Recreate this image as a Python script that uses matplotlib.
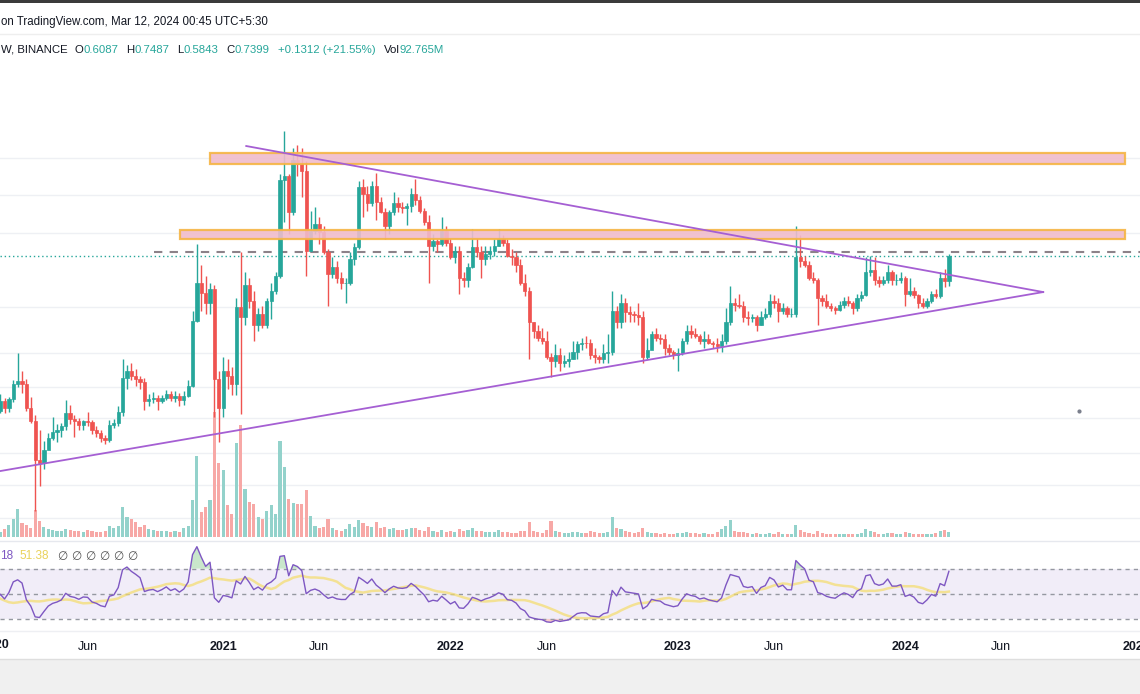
import numpy as np
import pandas as pd
import matplotlib
matplotlib.use("Agg")
import matplotlib.pyplot as plt
import matplotlib.dates as mdates
from matplotlib.patches import Rectangle

plt.rcParams['font.family'] = ['Liberation Sans', 'DejaVu Sans']

# XRP/USDT weekly candles (Binance), weeks start on Monday.
# first 20 weeks (Aug 2019 - Jan 2020) sit left of the view, they only warm up the RSI
weeks = pd.date_range("2019-08-26", "2024-03-11", freq="W-MON")
first_open = 0.254

close = [
    # 2019 warm-up
    0.257, 0.258, 0.264, 0.289, 0.245, 0.255, 0.292, 0.291, 0.300, 0.295,
    0.276, 0.262, 0.228, 0.224, 0.221, 0.205, 0.190, 0.193, 0.207, 0.220,
    # 2020 (from Jan 13)
    0.238, 0.226, 0.241, 0.272, 0.279, 0.272, 0.226, 0.203, 0.150, 0.146,
    0.162, 0.178, 0.186, 0.190, 0.196, 0.216, 0.206, 0.203, 0.197, 0.203,
    0.202, 0.189, 0.185, 0.178, 0.175, 0.197, 0.200, 0.218, 0.285, 0.300,
    0.290, 0.283, 0.275, 0.237, 0.242, 0.244, 0.238, 0.244, 0.252, 0.243,
    0.248, 0.240, 0.248, 0.268, 0.445, 0.600, 0.555, 0.510, 0.570, 0.283,
    0.225,
    # 2021
    0.300, 0.290, 0.272, 0.495, 0.460, 0.590, 0.520, 0.430, 0.470, 0.430,
    0.520, 0.560, 0.630, 1.340, 1.380, 1.040, 1.560, 1.520, 1.430, 0.770,
    0.900, 0.950, 0.890, 0.760, 0.640, 0.680, 0.620, 0.600, 0.600, 0.720,
    0.790, 1.270, 1.200, 1.120, 1.280, 1.130, 1.040, 0.930, 1.040, 1.120,
    1.080, 1.070, 1.090, 1.200, 1.140, 1.050, 0.960, 0.800, 0.830, 0.810,
    0.900, 0.820,
    # 2022
    0.730, 0.770, 0.620, 0.610, 0.680, 0.790, 0.760, 0.720, 0.750, 0.770,
    0.800, 0.840, 0.820, 0.740, 0.730, 0.690, 0.600, 0.560, 0.440, 0.410,
    0.390, 0.380, 0.335, 0.325, 0.340, 0.320, 0.325, 0.330, 0.350, 0.370,
    0.375, 0.373, 0.340, 0.335, 0.330, 0.345, 0.350, 0.480, 0.440, 0.510,
    0.475, 0.470, 0.465, 0.460, 0.336, 0.355, 0.400, 0.390, 0.385, 0.360,
    0.350, 0.340,
    # 2023
    0.345, 0.380, 0.410, 0.400, 0.395, 0.380, 0.385, 0.375, 0.370, 0.365,
    0.380, 0.440, 0.510, 0.505, 0.500, 0.460, 0.455, 0.460, 0.430, 0.460,
    0.470, 0.520, 0.510, 0.480, 0.490, 0.470, 0.470, 0.735, 0.710, 0.690,
    0.620, 0.610, 0.530, 0.520, 0.500, 0.490, 0.485, 0.505, 0.520, 0.510,
    0.490, 0.530, 0.545, 0.650, 0.660, 0.610, 0.600, 0.610, 0.650, 0.610,
    0.610, 0.620,
    # 2024
    0.550, 0.560, 0.545, 0.510, 0.500, 0.520, 0.550, 0.540, 0.620, 0.6087,
    0.7399,
]
high = [
    0.262, 0.265, 0.270, 0.318, 0.292, 0.262, 0.307, 0.303, 0.313, 0.305,
    0.310, 0.280, 0.265, 0.235, 0.232, 0.224, 0.207, 0.197, 0.216, 0.228,
    0.252, 0.243, 0.246, 0.281, 0.345, 0.300, 0.283, 0.245, 0.213, 0.190,
    0.174, 0.185, 0.210, 0.198, 0.200, 0.240, 0.230, 0.213, 0.208, 0.205,
    0.218, 0.205, 0.195, 0.190, 0.182, 0.205, 0.207, 0.228, 0.330, 0.316,
    0.320, 0.305, 0.290, 0.285, 0.252, 0.256, 0.250, 0.250, 0.260, 0.257,
    0.258, 0.253, 0.258, 0.280, 0.480, 0.810, 0.690, 0.630, 0.600, 0.590,
    0.300,
    0.335, 0.330, 0.310, 0.530, 0.760, 0.650, 0.620, 0.560, 0.490, 0.500,
    0.530, 0.600, 0.650, 1.400, 1.960, 1.400, 1.720, 1.760, 1.720, 1.550,
    1.050, 1.080, 1.000, 0.930, 0.780, 0.730, 0.710, 0.650, 0.620, 0.760,
    0.820, 1.330, 1.350, 1.280, 1.330, 1.410, 1.170, 1.070, 1.060, 1.220,
    1.170, 1.130, 1.120, 1.260, 1.350, 1.180, 1.070, 1.020, 0.880, 0.840,
    1.000, 0.930,
    0.850, 0.800, 0.800, 0.650, 0.700, 0.910, 0.850, 0.800, 0.800, 0.800,
    0.840, 0.910, 0.870, 0.840, 0.780, 0.760, 0.720, 0.640, 0.580, 0.440,
    0.430, 0.420, 0.410, 0.345, 0.370, 0.360, 0.340, 0.350, 0.380, 0.380,
    0.390, 0.395, 0.385, 0.360, 0.340, 0.370, 0.400, 0.560, 0.500, 0.550,
    0.530, 0.500, 0.480, 0.510, 0.480, 0.390, 0.410, 0.420, 0.400, 0.400,
    0.370, 0.355,
    0.360, 0.390, 0.430, 0.430, 0.420, 0.400, 0.410, 0.400, 0.380, 0.390,
    0.400, 0.490, 0.585, 0.530, 0.550, 0.520, 0.480, 0.470, 0.465, 0.480,
    0.490, 0.550, 0.545, 0.530, 0.510, 0.500, 0.490, 0.935, 0.870, 0.740,
    0.710, 0.650, 0.620, 0.545, 0.550, 0.510, 0.500, 0.520, 0.535, 0.540,
    0.520, 0.550, 0.560, 0.730, 0.740, 0.730, 0.630, 0.630, 0.690, 0.660,
    0.640, 0.650,
    0.630, 0.620, 0.580, 0.550, 0.530, 0.530, 0.560, 0.570, 0.650, 0.665,
    0.7487,
]
low = [
    0.251, 0.252, 0.254, 0.262, 0.225, 0.236, 0.252, 0.285, 0.272, 0.287,
    0.272, 0.255, 0.212, 0.208, 0.216, 0.198, 0.172, 0.184, 0.188, 0.201,
    0.217, 0.216, 0.218, 0.236, 0.266, 0.254, 0.220, 0.200, 0.101, 0.122,
    0.140, 0.165, 0.176, 0.172, 0.180, 0.190, 0.198, 0.180, 0.190, 0.190,
    0.196, 0.184, 0.180, 0.172, 0.170, 0.173, 0.192, 0.195, 0.212, 0.262,
    0.280, 0.268, 0.262, 0.222, 0.228, 0.235, 0.222, 0.235, 0.240, 0.238,
    0.236, 0.228, 0.230, 0.245, 0.265, 0.440, 0.480, 0.470, 0.470, 0.210,
    0.172,
    0.210, 0.262, 0.250, 0.250, 0.215, 0.430, 0.490, 0.380, 0.410, 0.420,
    0.420, 0.450, 0.550, 0.620, 0.960, 0.880, 1.020, 1.380, 1.170, 0.630,
    0.770, 0.880, 0.810, 0.750, 0.500, 0.620, 0.600, 0.570, 0.510, 0.590,
    0.690, 0.780, 1.000, 1.050, 1.090, 0.980, 1.030, 0.840, 0.880, 1.020,
    1.040, 1.030, 0.940, 1.040, 1.100, 1.030, 0.940, 0.600, 0.770, 0.760,
    0.800, 0.800,
    0.720, 0.700, 0.550, 0.580, 0.580, 0.670, 0.730, 0.620, 0.690, 0.720,
    0.740, 0.800, 0.800, 0.730, 0.690, 0.650, 0.590, 0.540, 0.330, 0.390,
    0.380, 0.370, 0.330, 0.287, 0.310, 0.300, 0.310, 0.310, 0.330, 0.330,
    0.355, 0.360, 0.330, 0.320, 0.320, 0.320, 0.320, 0.340, 0.420, 0.420,
    0.440, 0.440, 0.440, 0.430, 0.320, 0.330, 0.360, 0.380, 0.370, 0.340,
    0.340, 0.330,
    0.300, 0.340, 0.370, 0.390, 0.390, 0.370, 0.360, 0.370, 0.360, 0.350,
    0.350, 0.370, 0.430, 0.480, 0.490, 0.440, 0.430, 0.440, 0.410, 0.430,
    0.450, 0.460, 0.490, 0.440, 0.470, 0.460, 0.460, 0.460, 0.680, 0.680,
    0.610, 0.600, 0.430, 0.500, 0.490, 0.480, 0.470, 0.480, 0.490, 0.500,
    0.470, 0.480, 0.520, 0.540, 0.630, 0.590, 0.580, 0.590, 0.600, 0.590,
    0.590, 0.600,
    0.500, 0.540, 0.530, 0.490, 0.490, 0.490, 0.510, 0.530, 0.530, 0.580,
    0.5843,
]
# weekly volume in millions, visible weeks only (Jan 13 2020 onwards)
volume = [
    100, 160, 240, 360, 560, 280, 240, 180, 540, 320, 200, 160, 140, 120, 120,
    160, 140, 120, 120, 100, 140, 120, 100, 100, 120, 220, 180, 220, 600, 400,
    360, 300, 200, 240, 160, 140, 120, 120, 120, 100, 120, 100, 180, 220, 740,
    1620, 500, 600, 740, 2500, 1480,
    1340, 640, 460, 1880, 2240, 960, 700, 660, 400, 360, 520, 640, 460, 1920,
    1400, 760, 680, 660, 660, 940, 420, 220, 180, 200, 360, 180, 140, 120, 160,
    260, 200, 340, 280, 220, 200, 300, 180, 200, 160, 180, 140, 140, 160, 180,
    180, 140, 120, 200, 120, 100, 140, 100,
    120, 100, 160, 120, 140, 180, 120, 120, 100, 100, 100, 140, 100, 100, 80,
    80, 120, 120, 300, 120, 100, 80, 140, 320, 120, 100, 80, 80, 100, 100, 80,
    80, 120, 100, 80, 80, 100, 400, 180, 160, 120, 100, 80, 100, 180, 100, 80,
    80, 60, 80, 60, 60,
    80, 80, 100, 80, 80, 60, 80, 60, 60, 100, 160, 220, 340, 120, 100, 100, 80,
    60, 80, 60, 60, 80, 60, 100, 60, 60, 60, 240, 140, 100, 80, 60, 120, 80, 60,
    60, 60, 60, 60, 60, 60, 60, 80, 160, 120, 100, 60, 60, 80, 80, 60, 60,
    100, 80, 60, 60, 60, 60, 60, 80, 120, 140, 92.765,
]
warmup = 20

# drawings on the chart
zone_start = ["2020-12-14", "2020-10-27"]
zone_end = ["2024-12-18", "2024-12-18"]
zone_low = [1.515, 0.843]
zone_high = [1.65, 0.903]
upper_line_dates = ["2021-02-10", "2024-08-09"]
upper_line_prices = [1.743, 0.557]
lower_line_dates = ["2020-01-13", "2024-08-09"]
lower_line_prices = [0.1376, 0.557]
dashed_level, dashed_from = 0.762, "2020-09-16"
last_price = 0.7399
grid_prices = [1.588, 1.189, 0.884, 0.495, 0.347, 0.265, 0.208, 0.158, 0.123, 0.0953]
stray_dot = ("2024-10-05", 0.2196)

year_ticks = ["2021-01-04", "2022-01-03", "2023-01-02", "2024-01-01", "2025-01-06"]
year_labels = ["2021", "2022", "2023", "2024", "2025"]
jun_ticks = ["2020-06-01", "2021-06-07", "2022-06-06", "2023-06-05", "2024-06-03"]
first_year_tick = "2020-01-06"

UP, DOWN = "#26a69a", "#ef5350"
INK = "#131722"
W, H = 1140, 694


def box(x0, y0, x1, y1):
    return [x0 / W, 1 - y1 / H, (x1 - x0) / W, (y1 - y0) / H]


def bare(a):
    a.set_xticks([])
    a.set_yticks([])
    a.set_yticks([], minor=True)
    for s in a.spines.values():
        s.set_visible(False)


close = np.array(close)
high = np.array(high)
low = np.array(low)
opens = np.r_[first_open, close[:-1]]
x = mdates.date2num(weeks.to_pydatetime())
rising = close >= opens
cols = np.where(rising, UP, DOWN)

# RSI 14 with a 14 SMA, as the TradingView default
delta = pd.Series(close).diff()
gain = delta.clip(lower=0).ewm(alpha=1 / 14, adjust=False).mean()
loss = (-delta.clip(upper=0)).ewm(alpha=1 / 14, adjust=False).mean()
rsi = (100 - 100 / (1 + gain / loss)).to_numpy()
rsi_ma = pd.Series(rsi).rolling(14).mean().to_numpy()

xlim = (mdates.datestr2num("2020-01-12 18:00"), mdates.datestr2num("2025-01-11"))

fig = plt.figure(figsize=(W / 100, H / 100), dpi=100)
fig.patch.set_facecolor("white")

# grid layer, volume layer, price layer all on the same box
pane = box(0, 62, 1140, 540)
ax_grid = fig.add_axes(pane)
ax_vol = fig.add_axes(pane)
ax = fig.add_axes(pane)
for a in (ax_grid, ax):
    a.set_yscale("log")
    a.set_ylim(0.0803, 3.36)
for a in (ax_vol, ax):
    a.patch.set_visible(False)
for a in (ax_grid, ax_vol, ax):
    a.set_xlim(*xlim)
    bare(a)

for g in grid_prices:
    ax_grid.axhline(g, color="#eef0f4", lw=1)

# volume
vx = x[warmup:]
vcol = np.where(rising[warmup:], "#93d2cb", "#f7a8a6")
ax_vol.bar(vx, volume, width=5.0, color=vcol, lw=0)
ax_vol.set_ylim(-60, 9500)

# candles
ax.vlines(x, low, high, colors=cols, lw=1.0, zorder=3)
ax.bar(x, np.abs(close - opens), bottom=np.minimum(close, opens), width=5.2,
       color=cols, edgecolor=cols, lw=0.5, zorder=4)

# zones
for d0, d1, lo, hi in zip(zone_start, zone_end, zone_low, zone_high):
    x0, x1 = mdates.datestr2num(d0), mdates.datestr2num(d1)
    ax.add_patch(Rectangle((x0, lo), x1 - x0, hi - lo, facecolor="#f0bccb",
                           edgecolor="#f5b544", lw=1.6, alpha=0.9, zorder=5))

# levels and triangle
ax.axhline(last_price, color=UP, ls=(0, (1, 2)), lw=1, zorder=2)
ax.plot([mdates.datestr2num(dashed_from), xlim[1]], [dashed_level] * 2,
        color="#8c8289", ls=(0, (4, 3.5)), lw=1.5, zorder=2)
ax.plot(mdates.datestr2num(upper_line_dates), upper_line_prices, color="#a55fd3", lw=1.3, zorder=6)
ax.plot(mdates.datestr2num(lower_line_dates), lower_line_prices, color="#a55fd3", lw=1.3, zorder=6)
ax.plot(mdates.datestr2num(stray_dot[0]), stray_dot[1], "o", ms=2, color="#7a7f8c", zorder=6)

# RSI pane
ax_r = fig.add_axes(box(0, 541, 1140, 630))
ax_r.set_xlim(*xlim)
ax_r.set_ylim(21.2, 92)
ax_r.axhspan(30, 70, color="#7e57c2", alpha=0.1, lw=0)
for lvl in (70, 50, 30):
    ax_r.axhline(lvl, color="#9598a1", ls=(0, (3, 3)), lw=1)
ax_r.fill_between(x, rsi, 70, where=rsi > 70, interpolate=True, color="#66bb6a", alpha=0.35, lw=0)
ax_r.fill_between(x, rsi, 30, where=rsi < 30, interpolate=True, color="#ef5350", alpha=0.3, lw=0)
ax_r.plot(x, rsi_ma, color="#f5dc6a", lw=1.8, alpha=0.7)
ax_r.plot(x, rsi, color="#7e57c2", lw=1)
for s in ax_r.spines.values():
    s.set_visible(False)
ax_r.set_yticks([])
ax_r.set_xticks(mdates.datestr2num(year_ticks + jun_ticks))
ax_r.set_xticklabels(year_labels + ["Jun"] * len(jun_ticks))
ax_r.tick_params(axis="x", length=0, pad=8, labelsize=9, labelcolor=INK)
for lab in ax_r.get_xticklabels():
    if lab.get_text() != "Jun":
        lab.set_fontweight("bold")
# the 2020 label sits just left of the view, only its tail shows
ax_r.text(mdates.datestr2num(first_year_tick), -0.168, "2020", transform=ax_r.get_xaxis_transform(),
          ha="center", va="center", fontsize=9, fontweight="bold", color=INK, clip_on=False)

# frame lines and bottom band
fig.add_artist(Rectangle((0, 1 - 3 / H), 1, 3 / H, transform=fig.transFigure, color="#3b3b3b", lw=0))
fig.add_artist(plt.Line2D([0, 1], [1 - 34 / H] * 2, transform=fig.transFigure, color="#eeeeee", lw=1))
fig.add_artist(plt.Line2D([0, 1], [1 - 540.5 / H] * 2, transform=fig.transFigure, color="#e6e8ee", lw=1))
fig.add_artist(plt.Line2D([0, 1], [1 - 631 / H] * 2, transform=fig.transFigure, color="#eeeff3", lw=1))
fig.add_artist(Rectangle((0, 0), 1, 35 / H, transform=fig.transFigure, color="#f0f0f0", lw=0))
fig.add_artist(plt.Line2D([0, 1], [35 / H] * 2, transform=fig.transFigure, color="#dedede", lw=1))

# header
renderer = fig.canvas.get_renderer()
fig.text(1 / W, 1 - 22 / H, "on TradingView.com, Mar 12, 2024 00:45 UTC+5:30",
         fontsize=8.3, color=INK, va="center")
parts = [("W, BINANCE", INK, 7), ("O", INK, 0), ("0.6087", UP, 8), ("H", INK, 0),
         ("0.7487", UP, 8), ("L", INK, 0), ("0.5843", UP, 8), ("C", INK, 0),
         ("0.7399", UP, 8), ("+0.1312 (+21.55%)", UP, 8), ("Vol", INK, 0), ("92.765M", UP, 0)]
xpos = 1
for txt, c, gap in parts:
    t = fig.text(xpos / W, 1 - 50 / H, txt, fontsize=8.2, color=c, va="center")
    xpos += t.get_window_extent(renderer).width + gap

# RSI legend
legend = [("18", "#7e57c2", 6), ("51.38", "#e9d25a", 9),
          ("\u2205 \u2205 \u2205 \u2205 \u2205 \u2205", "#555555", 0)]
xpos = 0
for txt, c, gap in legend:
    t = fig.text(xpos / W, 1 - 556 / H, txt, fontsize=8.5, color=c, va="center",
                 family=["DejaVu Sans"] if "\u2205" in txt else None)
    xpos += t.get_window_extent(renderer).width + gap

fig.savefig("out.png", dpi=100)
